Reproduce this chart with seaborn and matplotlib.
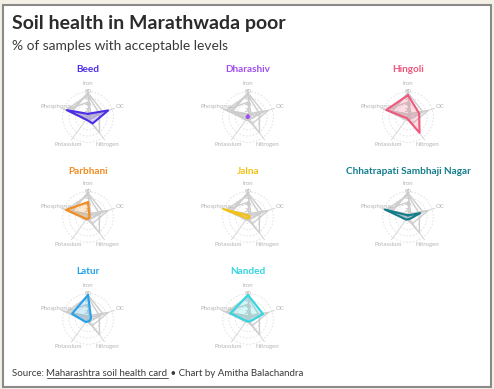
import matplotlib
matplotlib.use("Agg")
import matplotlib.pyplot as plt
import numpy as np
import pandas as pd
import seaborn as sns
from matplotlib.patches import Rectangle
from matplotlib.lines import Line2D

W, H = 494, 389

# axes order, clockwise from the top
nutrients = ["Iron", "OC", "Nitrogen", "Potassium", "Phosphorus"]
districts = ["Beed", "Dharashiv", "Hingoli", "Parbhani", "Jalna",
             "Chhatrapati Sambhaji Nagar", "Latur", "Nanded"]

# % of samples with acceptable levels (Iron, OC, Nitrogen, Potassium, Phosphorus)
beed = [10, 67, 25, 10, 70]
dharashiv = [5, 4, 3, 4, 5]
hingoli = [69, 37, 62, 5, 72]
parbhani = [47, 5, 5, 8, 73]
jalna = [5, 5, 5, 5, 82]
sambhaji_nagar = [5, 40, 8, 10, 77]
latur = [76, 10, 8, 12, 53]
nanded = [76, 50, 10, 8, 59]

district_colors = ["#4b2ee6", "#a04ff0", "#f0587c", "#f28c1c",
                   "#f2c218", "#137d8c", "#25a2ea", "#33d6e0"]

values = [beed, dharashiv, hingoli, parbhani, jalna, sambhaji_nagar, latur, nanded]
rows = []
for name, vals in zip(districts, values):
    for nut, v in zip(nutrients + [nutrients[0]], vals + [vals[0]]):
        rows.append({"district": name, "nutrient": nut, "value": v})
df = pd.DataFrame(rows)
df["step"] = df.groupby("district").cumcount()
angles = np.linspace(0, 2 * np.pi, len(nutrients), endpoint=False)
df["theta"] = np.append(angles, 2 * np.pi)[df["step"]]

sns.set_theme(style="white")
plt.rcParams["font.family"] = ["Lato", "DejaVu Sans"]

fig = plt.figure(figsize=(W / 100, H / 100), dpi=100)
fig.patch.set_facecolor("#f4f0e6")
fig.add_artist(Rectangle((3 / W, 2 / H), 488 / W, 382 / H, transform=fig.transFigure,
                         facecolor="white", edgecolor="#8a8a8a", lw=1.5, zorder=-10))

fig.text(12 / W, 1 - 23 / H, "Soil health in Marathwada poor", fontsize=14,
         fontweight="bold", color="#2b2b2b", va="center", ha="left")
fig.text(12 / W, 1 - 46 / H, "% of samples with acceptable levels", fontsize=9.9,
         color="#3a3a3a", va="center", ha="left")

RMAX = 90
radius_px = 28.5
col_x = [88, 248, 408]
row_y = [117, 217, 319]
title_y = [69, 171, 272]

for i, name in enumerate(districts):
    r, c = divmod(i, 3)
    cx, cy = col_x[c], row_y[r]
    ax = fig.add_axes([(cx - radius_px) / W, 1 - (cy + radius_px) / H,
                       2 * radius_px / W, 2 * radius_px / H], projection="polar")
    ax.set_facecolor("none")
    ax.set_theta_zero_location("N")
    ax.set_theta_direction(-1)
    ax.set_ylim(0, RMAX)
    ax.set_xticks(angles)
    ax.set_xticklabels([])
    ax.set_rgrids([20, 40, 60, 80], ["20", "40", "60", "80"], angle=0,
                  fontsize=4.3, color="#b8b8b8")
    for lab in ax.get_yticklabels():
        lab.set_ha("center")
        lab.set_va("center")
        lab.set_zorder(5)
    ax.yaxis.grid(True, color="#dedede", linestyle=(0, (2, 2)), lw=0.6)
    ax.xaxis.grid(True, color="#d6d6d6", linestyle="-", lw=0.7)
    ax.spines["polar"].set_visible(False)

    others = df[df["district"] != name]
    sns.lineplot(data=others, x="theta", y="value", units="district", estimator=None,
                 sort=False, color="#cdcdcd", lw=1.0, ax=ax, legend=False)
    own = df[df["district"] == name]
    sns.lineplot(data=own, x="theta", y="value", sort=False, estimator=None,
                 color=district_colors[i], lw=1.5, ax=ax, legend=False, zorder=4)
    ax.fill(own["theta"], own["value"], color=district_colors[i], alpha=0.2, zorder=3, lw=0)
    ax.set_xlabel("")
    ax.set_ylabel("")

    for ang, nut in zip(angles, nutrients):
        ax.text(ang, 106, nut, fontsize=4.4, color="#b5b5b5", ha="center", va="center",
                clip_on=False)

    fig.text(cx / W, 1 - title_y[r] / H, name, fontsize=7.2, fontweight="bold",
             color=district_colors[i], ha="center", va="center")

# footer with underlined source link
fig.canvas.draw()
renderer = fig.canvas.get_renderer()
x0 = 12 / W
ybase = 1 - 374 / H
parts = [("Source: ", False), ("Maharashtra soil health card", True),
         (" \u2022 Chart by Amitha Balachandra", False)]
for txt, underline in parts:
    t = fig.text(x0, ybase, txt, fontsize=7.0, color="#3a3a3a", ha="left", va="center")
    bb = t.get_window_extent(renderer).transformed(fig.transFigure.inverted())
    if underline:
        fig.add_artist(Line2D([bb.x0, bb.x1], [bb.y0 + 0.3 / H, bb.y0 + 0.3 / H],
                              transform=fig.transFigure, color="#3a3a3a", lw=0.6))
    x0 = bb.x1

fig.savefig("out.png", dpi=100, facecolor=fig.get_facecolor())
